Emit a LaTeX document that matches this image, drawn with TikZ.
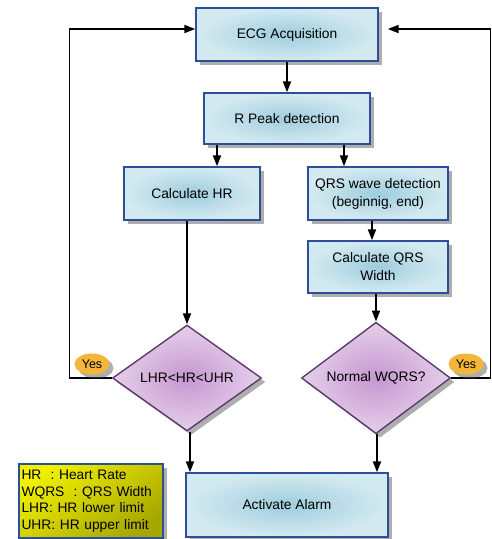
\documentclass[tikz,border=0pt]{standalone}
\usepackage{fontspec}
\setmainfont{Liberation Sans}
\usetikzlibrary{shapes.geometric,shadows,arrows.meta,calc}
\definecolor{boxin}{HTML}{9ECDDD}
\definecolor{boxout}{HTML}{D4EAF1}
\definecolor{boxline}{HTML}{2E4E9A}
\definecolor{dmin}{HTML}{C597D0}
\definecolor{dmout}{HTML}{E6CFEA}
\definecolor{dmline}{HTML}{5B3C6E}
\definecolor{yesfill}{HTML}{F4B63A}
\definecolor{legtop}{HTML}{F0F000}
\definecolor{legbot}{HTML}{A6A600}
\tikzset{
  shadowed/.style={drop shadow={opacity=0.45,shadow xshift=4pt,shadow yshift=-4pt,fill=black!70}},
  procbox/.style={rectangle,draw=boxline,line width=1.4pt,inner sep=0pt,
    inner color=boxin,outer color=boxout,shadowed,align=center,
    font=\fontsize{13.8}{18}\selectfont},
  decbox/.style={diamond,draw=dmline,line width=1.4pt,inner sep=0pt,
    inner color=dmin,outer color=dmout,shadowed,align=center,
    minimum width=149pt,minimum height=106pt,
    font=\fontsize{13.8}{18}\selectfont},
  yeslabel/.style={ellipse,fill=yesfill,draw=none,inner sep=0pt,
    minimum width=35pt,minimum height=21pt,shadowed,
    font=\fontsize{12.5}{14}\selectfont},
  legendbox/.style={rectangle,draw=boxline,line width=1.4pt,inner sep=0pt,
    shading=axis,top color=legtop,bottom color=legbot,shading angle=35,shadowed,
    font=\fontsize{13.8}{16.6}\selectfont},
  conn/.style={line width=1.8pt,-{Triangle[length=11pt,width=8pt]}},
  plainconn/.style={line width=1.8pt}
}
\begin{document}
\begin{tikzpicture}[x=1pt,y=-1pt]
\useasboundingbox (0,0) rectangle (491,539);
\node[procbox,minimum width=182pt,minimum height=53pt] (ecg) at (287,34.5) {ECG Acquisition};
\node[procbox,minimum width=166pt,minimum height=51pt] (rp) at (287,118.5) {R Peak detection};
\node[procbox,minimum width=136pt,minimum height=53pt] (hr) at (192,193.5) {Calculate HR};
\node[procbox,minimum width=140pt,minimum height=53pt] (qw) at (378,193.5) {QRS wave detection\\(beginnig, end)};
\node[procbox,minimum width=140pt,minimum height=52pt] (qc) at (378,267) {Calculate QRS\\Width};
\node[decbox] (d1) at (187,378) {LHR<HR<UHR};
\node[decbox] (d2) at (376,378) {Normal WQRS?};
\node[procbox,minimum width=202pt,minimum height=64pt] (al) at (287,505) {Activate Alarm};
\node[legendbox,minimum width=144pt,minimum height=74pt,text width=139pt,align=left] (lg) at (91,501)
  {HR\ \ : Heart Rate\\WQRS\ \ : QRS Width\\LHR: HR lower limit\\UHR: HR upper limit};

\coordinate (lb) at (69.5,378);
\coordinate (lt) at (69.5,29);
\coordinate (rb) at (490.5,378);
\coordinate (rt) at (490.5,29);

\draw[conn] (ecg.south) -- (rp.north);
\draw[conn] ([xshift=-70pt]rp.south) -- ([xshift=-70pt]rp.south |- hr.north);
\draw[conn] ([xshift=57pt]rp.south) -- ([xshift=57pt]rp.south |- qw.north);
\draw[conn] ([xshift=-6pt]qw.south) -- ([xshift=-6pt]qw.south |- qc.north);
\draw[conn] (qc.south -| d2.north) -- (d2.north);
\draw[conn] (hr.south -| d1.north) -- (d1.north);
\draw[conn] ([xshift=3pt]d1.south) -- ([xshift=3pt]d1.south |- al.north);
\draw[conn] ([xshift=1pt]d2.south) -- ([xshift=1pt]d2.south |- al.north);
\draw[conn] (d1.west) -- (lb) -- (lt) -- (ecg.west |- lt);
\draw[conn] (d2.east) -- (rb) -- (rt) -- ([xshift=9pt]ecg.east |- rt);

\node[yeslabel] (y1) at (92,364) {Yes};
\node[yeslabel] (y2) at (466,364) {Yes};
\end{tikzpicture}
\end{document}
